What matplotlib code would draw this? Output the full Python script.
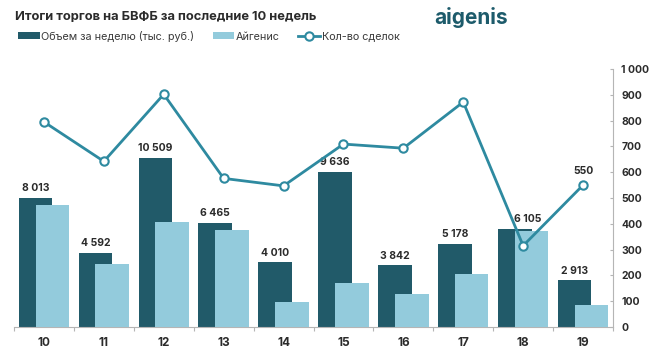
import matplotlib
matplotlib.use("Agg")
import matplotlib.pyplot as plt
import numpy as np

weeks = ["10", "11", "12", "13", "14", "15", "16", "17", "18", "19"]
volume = [8013, 4592, 10509, 6465, 4010, 9636, 3842, 5178, 6105, 2913]
aigenis = [7580, 3910, 6520, 6020, 1550, 2730, 2050, 3290, 5960, 1370]
deals = [795, 642, 902, 576, 547, 709, 693, 872, 315, 550]

DARK = "#215a69"
LIGHT = "#93cbdc"
LINE = "#2e8aa0"
TEXT = "#2b2b2b"
GRID = "#b5b5b5"

plt.rcParams["font.family"] = ["Inter", "DejaVu Sans"]

fig = plt.figure(figsize=(6.57, 3.6), dpi=100)
ax = fig.add_axes([14 / 657, 1 - 327 / 360, (613 - 14) / 657, (327 - 69) / 360])
ax2 = ax.twinx()

x = np.arange(len(weeks))
off = 0.14
w = 0.56
ax.bar(x - off, volume, width=w, color=DARK, zorder=2, label="Объем за неделю (тыс. руб.)")
ax.bar(x + off, aigenis, width=w, color=LIGHT, zorder=3, label="Айгенис")

# label of week 18 is nudged right so the line doesn't run through it
label_shift = [0, 0, 0, 0, 0, 0, 0, 0, 0.22, 0]
for xi, v, dx in zip(x, volume, label_shift):
    ax.text(xi - off + dx, v + 280, f"{v:,}".replace(",", " "), ha="center", va="bottom",
            fontsize=7.5, fontweight="bold", color=TEXT, zorder=6)

ax.set_xlim(-0.5, len(weeks) - 0.5)
ax.set_ylim(0, 16000)
ax.set_yticks([])
for s in ["top", "left", "right"]:
    ax.spines[s].set_visible(False)
ax.spines["bottom"].set_color(GRID)
ax.set_xticks(x)
ax.set_xticklabels(weeks, fontsize=8.5, fontweight="bold", color=TEXT)
ax.tick_params(axis="x", which="major", length=0, pad=7)
ax.set_xticks(np.arange(-0.5, len(weeks)), minor=True)
ax.tick_params(axis="x", which="minor", length=3, color=GRID, width=0.8)

ax2.plot(x, deals, color=LINE, lw=2.0, marker="o", ms=6, mfc="white", mec=LINE, mew=1.5,
         zorder=5, label="Кол-во сделок")
ax2.text(x[-1], deals[-1] + 35, str(deals[-1]), ha="center", va="bottom",
         fontsize=7.5, fontweight="bold", color=TEXT)
ax2.set_ylim(0, 1000)
ax2.set_yticks(np.arange(0, 1001, 100))
ax2.set_yticklabels([f"{t:,}".replace(",", " ") for t in range(0, 1001, 100)],
                    fontsize=7.5, fontweight="bold", color=TEXT)
ax2.tick_params(axis="y", direction="in", length=2, color=GRID, pad=6)
for s in ["top", "left", "bottom"]:
    ax2.spines[s].set_visible(False)
ax2.spines["right"].set_color(GRID)
ax.set_zorder(1)
ax2.set_zorder(2)
ax.patch.set_visible(False)

fig.text(15 / 657, 1 - 17 / 360, "Итоги торгов на БВФБ за последние 10 недель", fontsize=9.3,
         fontweight="bold", color=TEXT, va="center", ha="left")
fig.text(508 / 657, 1 - 18 / 360, "aigenis", fontsize=15, fontweight="bold", color="#1d5b6b",
         va="center", ha="right")

h1, l1 = ax.get_legend_handles_labels()
h2, l2 = ax2.get_legend_handles_labels()
fig.legend(h1 + h2, l1 + l2, loc="center left", bbox_to_anchor=(18 / 657, 1 - 36 / 360), ncol=3,
           frameon=False, fontsize=7.8, handlelength=2.0, handleheight=0.6, handletextpad=0.15,
           columnspacing=1.7, borderaxespad=0, borderpad=0, labelcolor="#3a3a3a")

fig.savefig("out.png", dpi=100)
